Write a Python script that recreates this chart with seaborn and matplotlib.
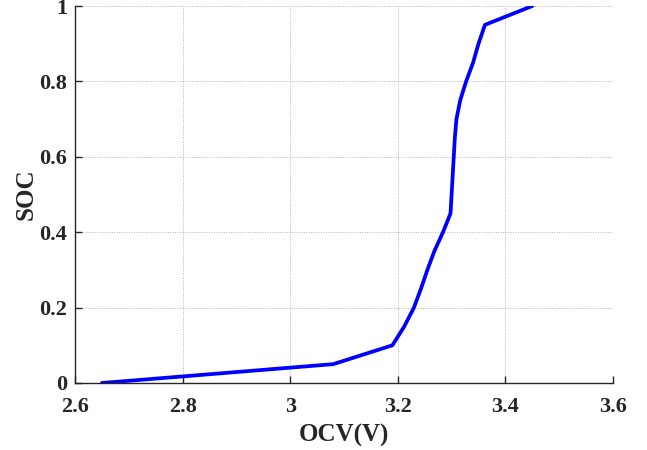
import matplotlib
matplotlib.use("Agg")
import matplotlib.pyplot as plt
import seaborn as sns
import pandas as pd

ocv = [2.65, 3.08, 3.19, 3.212, 3.23, 3.243, 3.255, 3.268, 3.284, 3.298, 3.300,
       3.302, 3.304, 3.306, 3.309, 3.316, 3.327, 3.340, 3.350, 3.362, 3.45]
soc = [0.0, 0.05, 0.10, 0.15, 0.20, 0.25, 0.30, 0.35, 0.40, 0.45, 0.50,
       0.55, 0.60, 0.65, 0.70, 0.75, 0.80, 0.85, 0.90, 0.95, 1.0]
xticks = [2.6, 2.8, 3.0, 3.2, 3.4, 3.6]
xticklabels = ["2.6", "2.8", "3", "3.2", "3.4", "3.6"]
yticks = [0, 0.2, 0.4, 0.6, 0.8, 1.0]
yticklabels = ["0", "0.2", "0.4", "0.6", "0.8", "1"]

df = pd.DataFrame({"OCV": ocv, "SOC": soc})

sns.set_style("white")
plt.rcParams['font.family'] = ['Liberation Serif', 'DejaVu Serif']
plt.rcParams['font.weight'] = 'bold'

fig = plt.figure(figsize=(6.47, 4.5), dpi=100)
ax = fig.add_axes([75/647, 67/450, 538/647, 377/450])
sns.lineplot(data=df, x="OCV", y="SOC", sort=False, color=(0, 0, 1), linewidth=2.7, ax=ax)

ax.set_xlim(2.6, 3.6)
ax.set_ylim(0, 1)
ax.set_xticks(xticks)
ax.set_xticklabels(xticklabels, fontsize=16, fontweight='bold')
ax.set_yticks(yticks)
ax.set_yticklabels(yticklabels, fontsize=16, fontweight='bold')
ax.grid(True, linestyle=(0, (1, 1.5)), color='#b5b5b5', linewidth=0.7)
ax.set_axisbelow(True)
for s in ['top', 'right']:
    ax.spines[s].set_visible(False)
for s in ['left', 'bottom']:
    ax.spines[s].set_color('#262626')
    ax.spines[s].set_linewidth(1.0)
ax.tick_params(direction='in', length=5, width=1, colors='#262626',
               bottom=True, left=True)
ax.tick_params(axis='x', pad=10)
ax.tick_params(axis='y', pad=5.5)
ax.set_xlabel("OCV(V)", fontsize=18, fontweight='bold', labelpad=5)
ax.set_ylabel("SOC", fontsize=18, fontweight='bold', labelpad=1.5)

fig.savefig("out.png", dpi=100)
